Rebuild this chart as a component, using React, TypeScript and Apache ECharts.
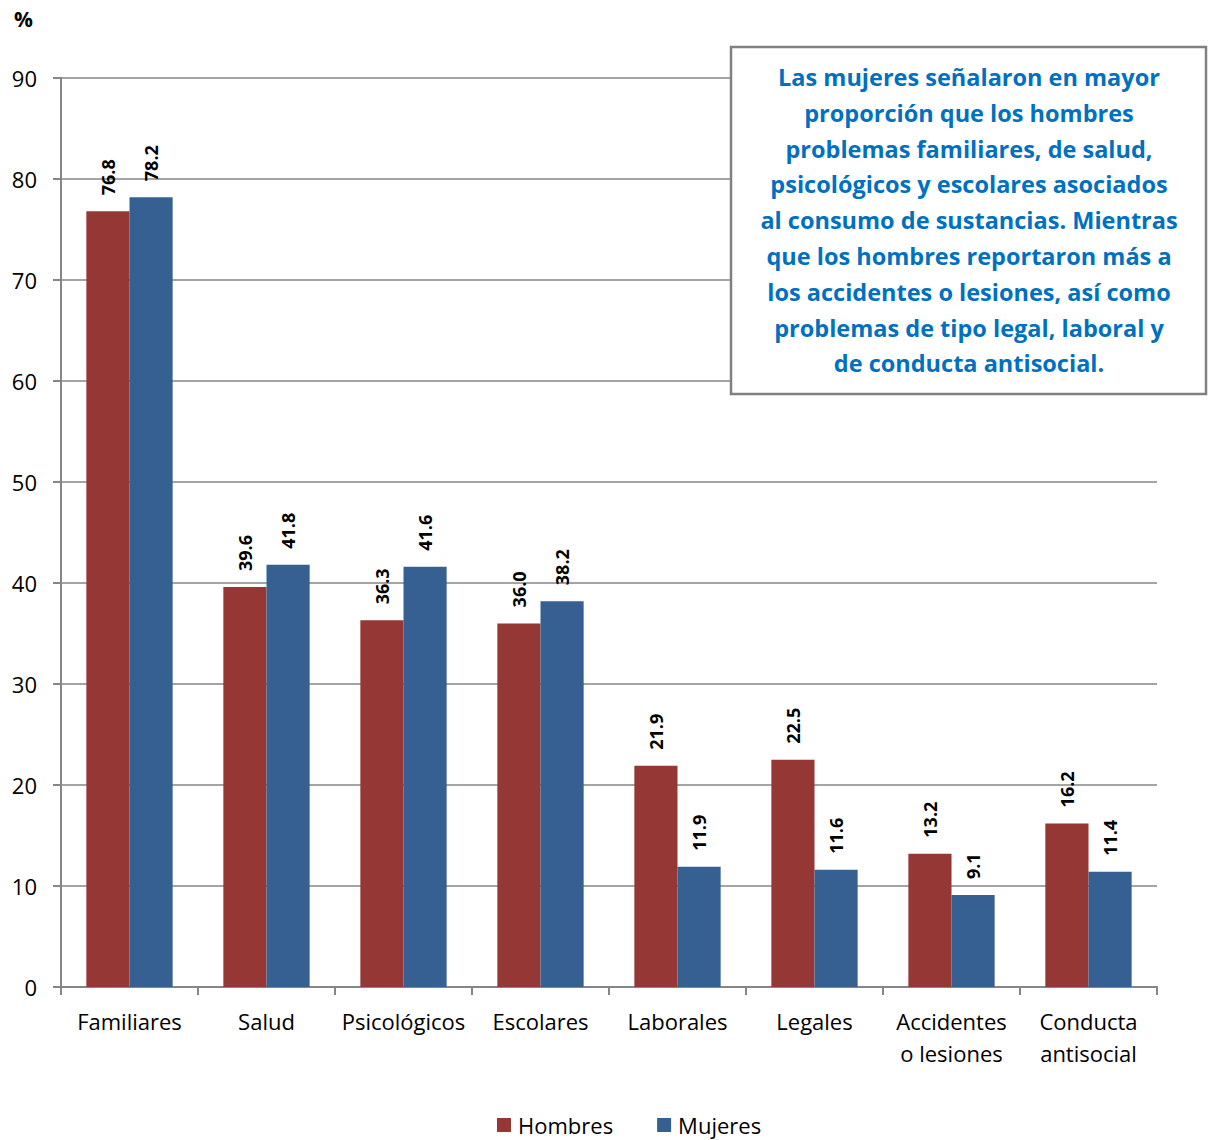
import React, { useEffect, useRef } from "react";
import * as echarts from "echarts";

const categories = [
  "Familiares",
  "Salud",
  "Psicológicos",
  "Escolares",
  "Laborales",
  "Legales",
  "Accidentes\no lesiones",
  "Conducta\nantisocial",
];
const hombres = [76.8, 39.6, 36.3, 36.0, 21.9, 22.5, 13.2, 16.2];
const mujeres = [78.2, 41.8, 41.6, 38.2, 11.9, 11.6, 9.1, 11.4];
const boxLines = [
  "Las mujeres señalaron en mayor",
  "proporción que los hombres",
  "problemas familiares, de salud,",
  "psicológicos y escolares asociados",
  "al consumo de sustancias. Mientras",
  "que los hombres reportaron más a",
  "los accidentes o lesiones, así como",
  "problemas de tipo legal, laboral y",
  "de conducta antisocial.",
];

const FONT = "'Open Sans', 'Noto Sans', sans-serif";

export default function App() {
  const ref = useRef<HTMLDivElement>(null);
  useEffect(() => {
    if (!ref.current) return;
    const chart = echarts.init(ref.current, null, { renderer: "svg" });
    const label = {
      show: true,
      position: "top" as const,
      distance: 16,
      rotate: 90,
      align: "left" as const,
      verticalAlign: "middle" as const,
      fontFamily: FONT,
      fontWeight: "bold" as const,
      fontSize: 18,
      color: "#000",
      formatter: (p: any) => Number(p.value).toFixed(1),
    };
    chart.setOption({
      animation: false,
      backgroundColor: "#fff",
      textStyle: { fontFamily: FONT },
      grid: { left: 61, right: 51, top: 78, bottom: 153, containLabel: false },
      legend: {
        data: ["Hombres", "Mujeres"],
        left: 497,
        top: 1112,
        icon: "rect",
        itemWidth: 14,
        itemHeight: 14,
        itemGap: 44,
        padding: 0,
        textStyle: {
          fontFamily: FONT,
          fontSize: 22,
          color: "#000",
          lineHeight: 26,
          padding: [0, 0, 0, 2],
        },
      },
      xAxis: {
        type: "category",
        data: categories,
        axisLine: { show: true, lineStyle: { color: "#868686", width: 2 } },
        axisTick: { show: true, length: 8, lineStyle: { color: "#868686", width: 2 } },
        axisLabel: {
          fontFamily: FONT,
          fontSize: 22,
          color: "#000",
          lineHeight: 32,
          margin: 18,
          interval: 0,
        },
      },
      yAxis: {
        type: "value",
        min: 0,
        max: 90,
        interval: 10,
        axisLine: { show: true, lineStyle: { color: "#868686", width: 2 } },
        axisTick: { show: true, length: 8, lineStyle: { color: "#868686", width: 2 } },
        splitLine: { show: true, lineStyle: { color: "#868686", width: 1.5 } },
        axisLabel: { fontFamily: FONT, fontSize: 22, color: "#000", margin: 24 },
      },
      series: [
        {
          name: "Hombres",
          type: "bar",
          data: hombres,
          barGap: "0%",
          barCategoryGap: "37%",
          itemStyle: { color: "#953735" },
          label,
        },
        {
          name: "Mujeres",
          type: "bar",
          data: mujeres,
          barGap: "0%",
          barCategoryGap: "37%",
          itemStyle: { color: "#376092" },
          label,
        },
      ],
      graphic: [
        {
          type: "text",
          left: 14,
          top: 8,
          style: {
            text: "%",
            fontFamily: FONT,
            fontWeight: "bold",
            fontSize: 21,
            fill: "#000",
          },
        },
        {
          type: "rect",
          z: 100,
          shape: { x: 731, y: 47, width: 475, height: 347 },
          style: { fill: "#fff", stroke: "#808080", lineWidth: 2.5 },
        },
        {
          type: "text",
          z: 101,
          x: 969,
          y: 59,
          style: {
            text: boxLines.join("\n"),
            align: "center",
            verticalAlign: "top",
            fontFamily: FONT,
            fontWeight: "bold",
            fontSize: 23.5,
            lineHeight: 35.8,
            fill: "#0070C0",
          },
        },
      ],
    });
    return () => chart.dispose();
  }, []);
  return (
    <div
      ref={ref}
      style={{ position: "fixed", left: 0, top: 0, width: 1208, height: 1140 }}
    />
  );
}
